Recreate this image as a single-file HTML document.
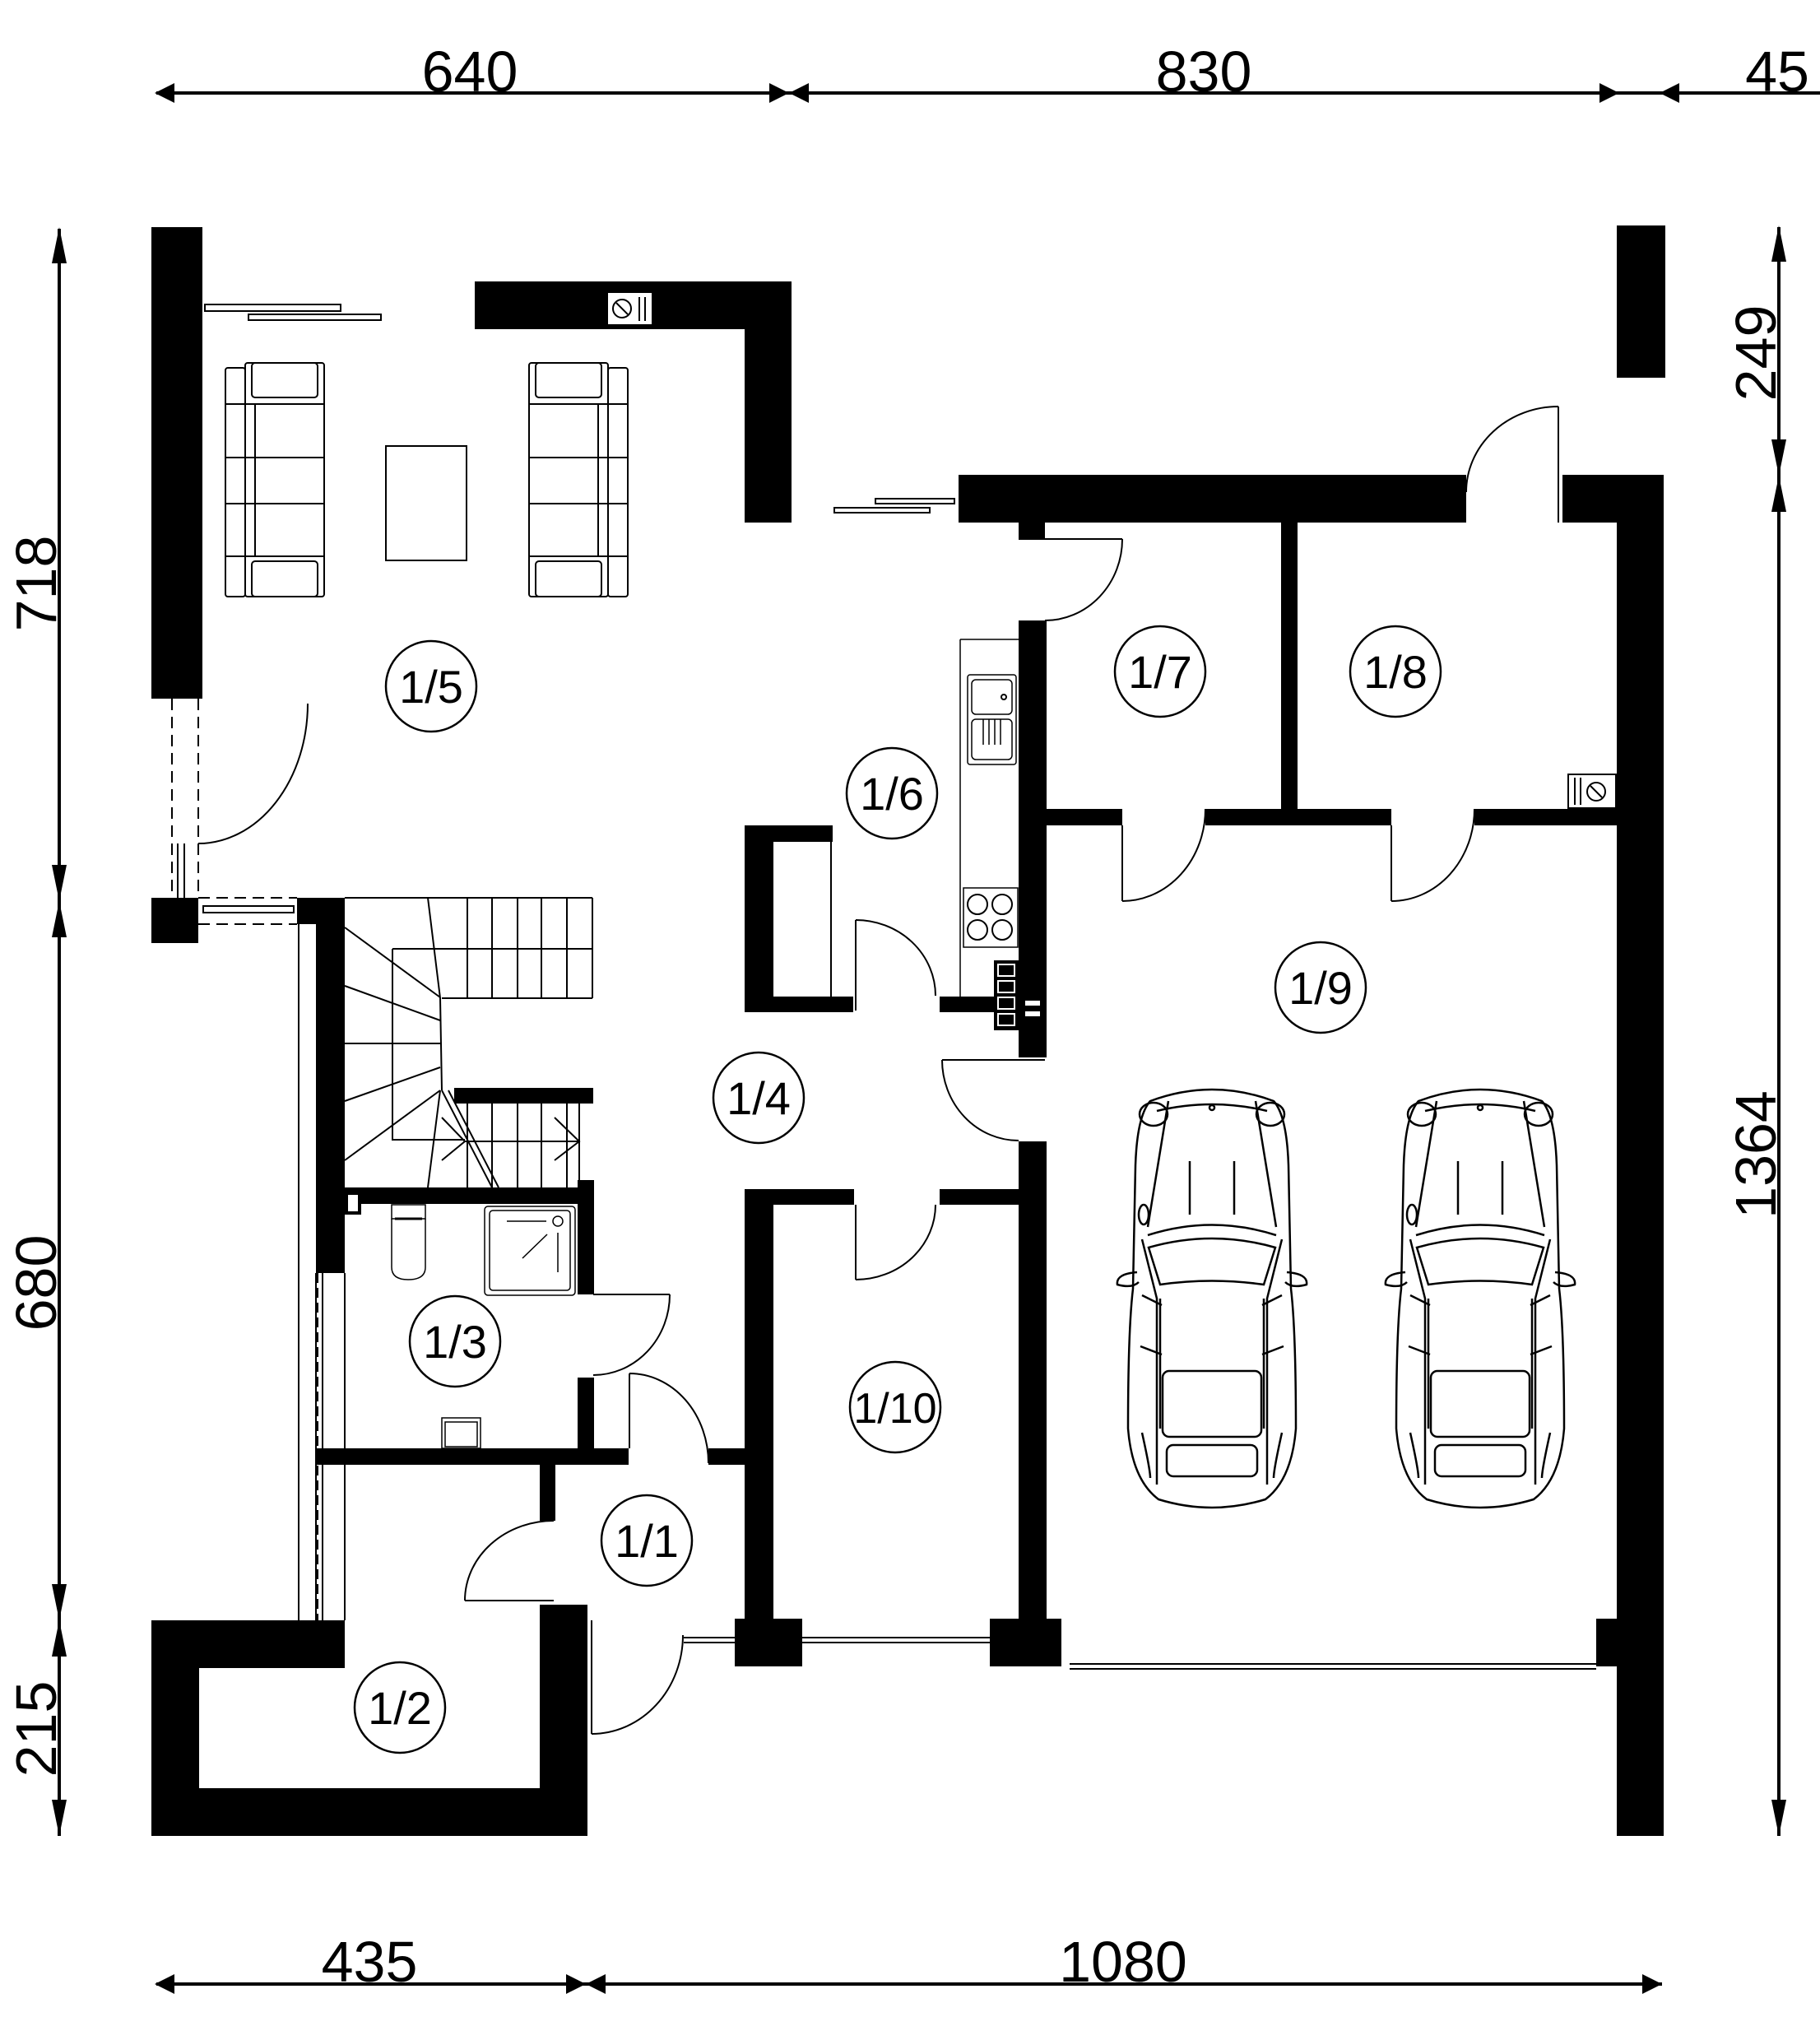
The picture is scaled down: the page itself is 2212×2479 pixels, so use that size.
<!DOCTYPE html>
<html><head><meta charset="utf-8"><style>
html,body{margin:0;padding:0;background:#fff}
svg{display:block}
text{font-family:"Liberation Sans",sans-serif}
</style></head><body>
<svg width="2212" height="2479" viewBox="0 0 2212 2479" xmlns="http://www.w3.org/2000/svg">
<defs>
<g id="car" fill="none" stroke="#000" stroke-width="2.5">
  <path d="M30,22 Q105,-6 180,22 Q196,40 198,100 L201,250 Q207,300 207,420 Q202,482 170,506 Q105,526 40,506 Q8,482 3,420 Q3,300 9,250 L12,100 Q14,40 30,22 Z"/>
  <path d="M38,34 Q105,18 172,34"/>
  <ellipse cx="34" cy="38" rx="17" ry="14"/><ellipse cx="176" cy="38" rx="17" ry="14"/>
  <circle cx="105" cy="30" r="3"/>
  <path d="M52,22 L27,175 M158,22 L183,175"/>
  <path d="M78,95 L78,160 M132,95 L132,160"/>
  <ellipse cx="22" cy="160" rx="6" ry="12"/>
  <path d="M27,185 Q105,160 183,185"/>
  <path d="M28,200 Q105,178 182,200 L168,245 Q105,236 42,245 Z"/>
  <path d="M20,190 L38,262 L38,488 M190,190 L172,262 L172,488"/>
  <path d="M14,230 Q-12,232 -10,245 Q8,250 16,242 M196,230 Q222,232 220,245 Q202,250 194,242"/>
  <path d="M42,262 L42,420 M168,262 L168,420"/>
  <rect x="45" y="350" width="120" height="80" rx="8"/>
  <rect x="50" y="440" width="110" height="38" rx="8"/>
  <path d="M20,425 Q30,470 30,480 M190,425 Q180,470 180,480"/>
  <path d="M44,330 L18,320 M166,330 L192,320 M44,270 L20,258 M166,270 L190,258"/>
</g>
<g id="sofaL" fill="none" stroke="#000" stroke-width="2">
  <rect x="0" y="6" width="24" height="278" rx="3"/>
  <rect x="24" y="0" width="96" height="284" rx="3"/>
  <rect x="32" y="0" width="80" height="42" rx="4"/>
  <rect x="32" y="241" width="80" height="43" rx="4"/>
  <path d="M0,50 L120,50 M0,115 L120,115 M0,171 L120,171 M0,235 L120,235 M36,50 L36,235"/>
</g>
</defs>

<g stroke="#000" stroke-width="4" fill="none">
<line x1="190" y1="113" x2="2212" y2="113"/>
<line x1="190" y1="2411" x2="2020" y2="2411"/>
<line x1="72" y1="278" x2="72" y2="2231"/>
<line x1="2162" y1="276" x2="2162" y2="2231"/>
</g>
<g fill="#000">
<path d="M188,113 l24,-12 v24z"/><path d="M959,113 l-24,-12 v24z"/><path d="M959,113 l24,-12 v24z"/>
<path d="M1968,113 l-24,-12 v24z"/><path d="M2017,113 l24,-12 v24z"/>
<path d="M188,2411 l24,-12 v24z"/><path d="M712,2411 l-24,-12 v24z"/><path d="M712,2411 l24,-12 v24z"/><path d="M2020,2411 l-24,-12 v24z"/>
<path d="M72,276 l-9,44 h18z"/><path d="M72,1095 l-9,-44 h18z"/><path d="M72,1095 l-9,44 h18z"/>
<path d="M72,1969 l-9,-44 h18z"/><path d="M72,1969 l-9,44 h18z"/><path d="M72,2231 l-9,-44 h18z"/>
<path d="M2162,274 l-9,44 h18z"/><path d="M2162,578 l-9,-44 h18z"/><path d="M2162,578 l-9,44 h18z"/><path d="M2162,2231 l-9,-44 h18z"/>
</g>
<g font-size="70" fill="#000" text-anchor="middle">
<text x="571" y="111">640</text>
<text x="1463" y="111">830</text>
<text x="2160" y="111">45</text>
<text x="449" y="2408">435</text>
<text x="1365" y="2408">1080</text>
<text transform="translate(68,709) rotate(-90)">718</text>
<text transform="translate(68,1559) rotate(-90)">680</text>
<text transform="translate(68,2101) rotate(-90)">215</text>
<text transform="translate(2158,429) rotate(-90)">249</text>
<text transform="translate(2158,1403) rotate(-90)">1364</text>
</g>

<g fill="#000">
<rect x="184" y="276" width="62" height="573"/>
<rect x="577" y="342" width="385" height="58"/>
<rect x="905" y="342" width="57" height="293"/>
<rect x="1965" y="274" width="59" height="185"/>
<rect x="1165" y="577" width="617" height="58"/>
<rect x="1238" y="635" width="32" height="19"/>
<rect x="1899" y="577" width="123" height="58"/>
<rect x="1965" y="577" width="57" height="1654"/>
<rect x="1238" y="754" width="34" height="531"/>
<rect x="1557" y="635" width="20" height="360"/>
<rect x="1272" y="983" width="92" height="20"/>
<rect x="1465" y="983" width="226" height="20"/>
<rect x="1792" y="983" width="173" height="20"/>
<rect x="1238" y="1387" width="34" height="600"/>
<rect x="1203" y="1967" width="87" height="58"/>
<rect x="1940" y="1967" width="25" height="58"/>
<rect x="905" y="1003" width="107" height="20"/>
<rect x="905" y="1003" width="35" height="227"/>
<rect x="905" y="1211" width="132" height="19"/>
<rect x="1142" y="1211" width="96" height="19"/>
<rect x="905" y="1445" width="133" height="19"/>
<rect x="1142" y="1445" width="96" height="19"/>
<rect x="905" y="1445" width="35" height="530"/>
<rect x="893" y="1967" width="82" height="58"/>
<rect x="184" y="1091" width="57" height="55"/>
<rect x="361" y="1091" width="58" height="32"/>
<rect x="384" y="1091" width="35" height="456"/>
<rect x="552" y="1322" width="169" height="19"/>
<rect x="419" y="1443" width="303" height="20"/>
<rect x="702" y="1434" width="20" height="139"/>
<rect x="702" y="1674" width="20" height="100"/>
<rect x="384" y="1760" width="380" height="20"/>
<rect x="656" y="1780" width="19" height="68"/>
<rect x="861" y="1760" width="44" height="20"/>
<path d="M184,1969 H419 V2027 H242 V2173 H656 V1950 H714 V2231 H184 Z"/>
</g>

<g fill="none" stroke="#000" stroke-width="2">
<rect x="249" y="370" width="165" height="8"/><rect x="302" y="382" width="161" height="7"/>
<rect x="1064" y="606" width="96" height="6"/><rect x="1014" y="617" width="116" height="6"/>
<path d="M209,849 V1091 M241,849 V1091" stroke-dasharray="14,8"/>
<path d="M374,855 A133,170 0 0 1 241,1025"/>
<path d="M216,1025 V1091 M224,1025 V1091"/>
<path d="M241,1091 H361 M241,1123 H361" stroke-dasharray="14,8"/>
<rect x="247" y="1101" width="110" height="8"/>
<path d="M363,1123 V1969 M384,1547 V1969"/>
<path d="M386,1547 V1969" stroke-dasharray="12,6"/>
<path d="M392,1547 V1969 M419,1547 V1969"/>
<path d="M1010,1023 V1211"/>
<path d="M1167,777 V1211 M1167,777 H1238" stroke-width="1.5"/>
<rect x="1176" y="820" width="59" height="109" rx="3" stroke-width="1.5"/>
<rect x="1181" y="826" width="49" height="42" rx="5" stroke-width="1.5"/>
<rect x="1181" y="874" width="49" height="49" rx="5" stroke-width="1.5"/>
<circle cx="1220" cy="847" r="3"/>
<path d="M1195,874 V905 M1202,874 V905 M1209,874 V905 M1216,874 V905" stroke-width="1.5"/>
<rect x="1171" y="1079" width="66" height="72" stroke-width="1.5"/>
<circle cx="1188" cy="1099" r="12"/><circle cx="1218" cy="1099" r="12"/>
<circle cx="1188" cy="1130" r="12"/><circle cx="1218" cy="1130" r="12"/>
<path d="M1040,1118 V1228 M1040,1118 A97,92 0 0 1 1137,1210"/>
<path d="M1145,1288 H1270 M1145,1288 A93,98 0 0 0 1238,1386"/>
<path d="M1040,1464 V1555 M1137,1464 A97,91 0 0 1 1040,1555"/>
<path d="M1894,635 V494 M1894,494 A112,104 0 0 0 1782,598"/>
<path d="M1238,655 H1364 M1364,655 A94,99 0 0 1 1270,754"/>
<path d="M1364,1003 V1095 M1364,1095 A101,112 0 0 0 1465,983"/>
<path d="M1691,1003 V1095 M1691,1095 A101,112 0 0 0 1792,983"/>
<path d="M721,1573 H814 M814,1573 A93,98 0 0 1 721,1671"/>
<path d="M765,1669 V1760 M765,1669 A96,109 0 0 1 861,1778"/>
<path d="M565,1945 H673 M673,1848 A108,97 0 0 0 565,1945"/>
<path d="M719,1969 V2107 M719,2107 A111,120 0 0 0 830,1987"/>
<path d="M975,1990 H1203 M975,1996 H1203 M831,1990 H893 M831,1996 H893"/>
<path d="M1300,2022 H1940 M1300,2028 H1940"/>
<path d="M419,1091 H720 M477,1153 H720 M537,1213 H720 M720,1091 V1213"/>
<path d="M568,1091 V1213 M598,1091 V1213 M629,1091 V1213 M658,1091 V1213 M689,1091 V1213"/>
<path d="M520,1091 L535,1213 L537,1325"/>
<path d="M477,1153 V1385 H565"/>
<path d="M419,1127 L535,1212 M419,1198 L535,1240 M419,1268 H537 M419,1338 L535,1297 M419,1410 L535,1325"/>
<path d="M568,1341 V1443 M598,1341 V1443 M629,1341 V1443 M658,1341 V1443 M689,1341 V1443 M704,1341 V1443 M565,1387 H704"/>
<path d="M535,1325 L520,1443 M537,1325 L598,1443 M545,1325 L606,1443"/>
<path d="M537,1358 L565,1387 L537,1410 M674,1358 L704,1387 L674,1410"/>
<rect x="476" y="1464" width="41" height="17" stroke-width="1.5"/>
<path d="M476,1481 V1540 Q476,1555 496,1555 Q517,1555 517,1540 V1481" stroke-width="1.5"/>
<path d="M480,1481 H513" stroke-width="3"/>
<rect x="589" y="1466" width="110" height="108" rx="4" stroke-width="1.5"/>
<rect x="595" y="1471" width="98" height="97" rx="4" stroke-width="1.5"/>
<circle cx="678" cy="1484" r="6" stroke-width="1.5"/>
<path d="M616,1484 H664 M678,1498 V1546 M665,1500 L635,1529" stroke-width="1.5"/>
<rect x="537" y="1723" width="47" height="37" stroke-width="1.5"/>
<rect x="541" y="1728" width="39" height="30" stroke-width="1.5"/>
<rect x="469" y="542" width="98" height="139"/>
</g>
<use href="#sofaL" x="274" y="441"/>
<use href="#sofaL" transform="translate(763,441) scale(-1,1)"/>
<use href="#car" x="1368" y="1316"/>
<use href="#car" x="1694" y="1316"/>

<g>
<rect x="738" y="355" width="55" height="40" fill="#fff" stroke="#000" stroke-width="2"/>
<circle cx="756" cy="375" r="11" fill="none" stroke="#000" stroke-width="2"/>
<path d="M749,368 L763,382 M777,361 V390 M784,361 V390" stroke="#000" stroke-width="2"/>
<rect x="1906" y="941" width="58" height="41" fill="#fff" stroke="#000" stroke-width="2"/>
<circle cx="1940" cy="962" r="11" fill="none" stroke="#000" stroke-width="2"/>
<path d="M1933,955 L1947,969 M1914,945 V978 M1921,945 V978" stroke="#000" stroke-width="2"/>
<rect x="1208" y="1167" width="32" height="85" fill="#000"/>
<g fill="none" stroke="#fff" stroke-width="2">
<rect x="1213" y="1172" width="20" height="14"/><rect x="1213" y="1192" width="20" height="14"/>
<rect x="1213" y="1212" width="20" height="14"/><rect x="1213" y="1232" width="20" height="14"/>
</g>
<rect x="1246" y="1216" width="18" height="6" fill="#fff"/><rect x="1246" y="1229" width="18" height="6" fill="#fff"/>
<rect x="419" y="1448" width="20" height="28" fill="#000"/>
<rect x="423" y="1452" width="12" height="20" fill="#fff"/>
</g>

<g fill="#fff" stroke="#000" stroke-width="2.5">
<circle cx="524" cy="834" r="55"/><circle cx="1084" cy="964" r="55"/>
<circle cx="1410" cy="816" r="55"/><circle cx="1696" cy="816" r="55"/>
<circle cx="1605" cy="1200" r="55"/><circle cx="922" cy="1334" r="55"/>
<circle cx="553" cy="1630" r="55"/><circle cx="1088" cy="1710" r="55"/>
<circle cx="786" cy="1872" r="55"/><circle cx="486" cy="2075" r="55"/>
</g>
<g font-size="56" fill="#000" text-anchor="middle">
<text x="524" y="854">1/5</text><text x="1084" y="984">1/6</text>
<text x="1410" y="836">1/7</text><text x="1696" y="836">1/8</text>
<text x="1605" y="1220">1/9</text><text x="922" y="1354">1/4</text>
<text x="553" y="1650">1/3</text><text x="1088" y="1729" font-size="52">1/10</text>
<text x="786" y="1892">1/1</text><text x="486" y="2095">1/2</text>
</g>
</svg>
</body></html>
